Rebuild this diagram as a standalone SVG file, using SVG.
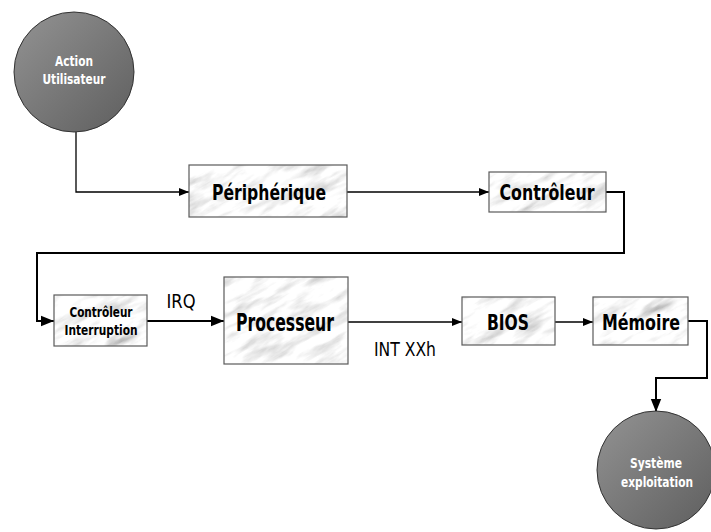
<svg xmlns="http://www.w3.org/2000/svg" width="711" height="532" viewBox="0 0 711 532">
<defs>
<style>
.box{stroke:#5a5a5a;stroke-width:1.2;fill:none}
.mb{fill:url(#mp)}
.lbl{font-family:"DejaVu Sans",sans-serif;font-stretch:condensed;font-weight:bold;fill:#000;text-anchor:middle}
.clbl{font-family:"DejaVu Sans",sans-serif;font-stretch:condensed;font-weight:bold;fill:#fff;text-anchor:middle;font-size:13.5px}
.edge{font-family:"DejaVu Sans",sans-serif;font-stretch:condensed;fill:#000;font-size:19px}
.wire{fill:none;stroke:#000;stroke-width:1.3}
.thick{fill:none;stroke:#000;stroke-width:2}
.circ{fill:url(#cg);stroke:#333;stroke-width:1}
</style>
<linearGradient id="cg" x1="0" y1="0" x2="1" y2="1">
<stop offset="0" stop-color="#939393"/>
<stop offset="1" stop-color="#5e5e5e"/>
</linearGradient>
<filter id="marble" x="0" y="0" width="1" height="1">
<feTurbulence type="fractalNoise" baseFrequency="0.025 0.1" numOctaves="4" seed="7" stitchTiles="stitch" result="n"/>
<feColorMatrix in="n" type="matrix" values="1.0 0.5 0 0 0.2  1.0 0.5 0 0 0.2  1.0 0.5 0 0 0.2  0 0 0 0 1" result="g"/>
<feComposite in="g" in2="SourceGraphic" operator="in"/>
</filter>
<pattern id="mp" width="240" height="240" patternUnits="userSpaceOnUse" patternTransform="rotate(-30)">
<rect width="240" height="240" fill="#ddd" filter="url(#marble)"/>
</pattern>
<marker id="ah" viewBox="0 0 10 10" refX="10" refY="5" markerWidth="10" markerHeight="10" markerUnits="userSpaceOnUse" orient="auto">
<path d="M0,1 L10,5 L0,9 z" fill="#000"/>
</marker>
<marker id="ahb" viewBox="0 0 10 10" refX="10" refY="5" markerWidth="13" markerHeight="13" markerUnits="userSpaceOnUse" orient="auto">
<path d="M0,1 L10,5 L0,9 z" fill="#000"/>
</marker>
</defs>
<rect width="711" height="532" fill="#fff"/>

<g id="connectors">
<path class="wire" d="M76,132 V192 H189" marker-end="url(#ah)"/>
<path class="wire" d="M347,192 H489" marker-end="url(#ah)"/>
<path class="thick" d="M606,192 H624 V253 H37 V321 H54" marker-end="url(#ahb)"/>
<path class="thick" d="M147,321 H224" marker-end="url(#ahb)"/>
<path class="wire" d="M348,322 H462" marker-end="url(#ah)"/>
<path class="wire" d="M555,322 H593" marker-end="url(#ah)"/>
<path class="thick" d="M688,321 H707 V378 H656 V412" marker-end="url(#ahb)"/>
<text class="edge" x="181" y="308" text-anchor="middle" textLength="29" lengthAdjust="spacingAndGlyphs">IRQ</text>
<text class="edge" x="405" y="356" text-anchor="middle" textLength="62" lengthAdjust="spacingAndGlyphs">INT XXh</text>
</g>

<g id="action">
<circle class="circ" cx="74" cy="72" r="60"/>
<text class="clbl" x="74" y="66" textLength="38" lengthAdjust="spacingAndGlyphs">Action</text>
<text class="clbl" x="74" y="84" textLength="63" lengthAdjust="spacingAndGlyphs">Utilisateur</text>
</g>

<g id="peripherique">
<rect class="mb" x="189" y="165" width="158" height="52"/>
<rect class="box" x="189" y="165" width="158" height="52"/>
<text class="lbl" x="269" y="200" font-size="22" textLength="114" lengthAdjust="spacingAndGlyphs">Périphérique</text>
</g>

<g id="controleur">
<rect class="mb" x="489" y="172" width="117" height="40"/>
<rect class="box" x="489" y="172" width="117" height="40"/>
<text class="lbl" x="547" y="200" font-size="22" textLength="95" lengthAdjust="spacingAndGlyphs">Contrôleur</text>
</g>

<g id="controleur-interruption">
<rect class="mb" x="54" y="295" width="93" height="51"/>
<rect class="box" x="54" y="295" width="93" height="51"/>
<text class="lbl" x="101" y="317" font-size="13.5" textLength="63" lengthAdjust="spacingAndGlyphs">Contrôleur</text>
<text class="lbl" x="101" y="335" font-size="13.5" textLength="73" lengthAdjust="spacingAndGlyphs">Interruption</text>
</g>

<g id="processeur">
<rect class="mb" x="224" y="277" width="124" height="87"/>
<rect class="box" x="224" y="277" width="124" height="87"/>
<text class="lbl" x="285" y="331" font-size="25" textLength="98" lengthAdjust="spacingAndGlyphs">Processeur</text>
</g>

<g id="bios">
<rect class="mb" x="462" y="297" width="93" height="48"/>
<rect class="box" x="462" y="297" width="93" height="48"/>
<text class="lbl" x="508" y="330" font-size="21" textLength="42" lengthAdjust="spacingAndGlyphs">BIOS</text>
</g>

<g id="memoire">
<rect class="mb" x="593" y="297" width="95" height="48"/>
<rect class="box" x="593" y="297" width="95" height="48"/>
<text class="lbl" x="641" y="330" font-size="21" textLength="78" lengthAdjust="spacingAndGlyphs">Mémoire</text>
</g>

<g id="systeme">
<circle class="circ" cx="656" cy="470" r="59"/>
<text class="clbl" x="656" y="468" textLength="52" lengthAdjust="spacingAndGlyphs">Système</text>
<text class="clbl" x="657" y="487" textLength="72" lengthAdjust="spacingAndGlyphs">exploitation</text>
</g>
</svg>
